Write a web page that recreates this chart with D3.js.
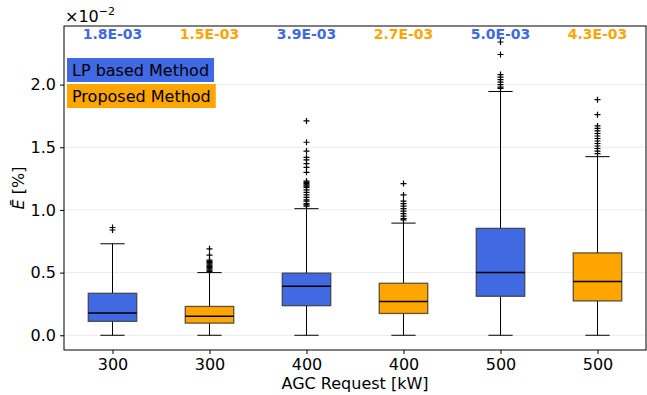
<!DOCTYPE html>
<html>
<head>
<meta charset="utf-8">
<script src="https://cdn.jsdelivr.net/npm/d3@7"></script>
<style>
  body { margin: 0; background: #fff; }
  svg { font-family: "DejaVu Sans", sans-serif; }
</style>
</head>
<body>
<svg id="chart" width="647" height="395"></svg>
<script>
// values are in units of 1e-2 %
const categories = ['300', '300', '400', '400', '500', '500'];
const methods = ['LP', 'Proposed', 'LP', 'Proposed', 'LP', 'Proposed'];
const q1 = [0.111, 0.097, 0.236, 0.174, 0.311, 0.274];
const medians = [0.177, 0.152, 0.392, 0.270, 0.501, 0.430];
const q3 = [0.335, 0.230, 0.496, 0.415, 0.853, 0.657];
const whiskerLow = [0, 0, 0, 0, 0, 0];
const whiskerHigh = [0.73, 0.50, 1.01, 0.895, 1.945, 1.425];
const outliers = [
  [0.84, 0.86],
  [0.51, 0.52, 0.53, 0.54, 0.55, 0.56, 0.57, 0.58, 0.59, 0.60, 0.64, 0.69],
  [1.03, 1.04, 1.05, 1.07, 1.08, 1.10, 1.12, 1.14, 1.16, 1.18, 1.19, 1.20,
   1.21, 1.22, 1.23, 1.30, 1.34, 1.37, 1.40, 1.42, 1.47, 1.54, 1.71],
  [0.92, 0.93, 0.95, 0.97, 0.99, 1.01, 1.03, 1.05, 1.07, 1.12, 1.21],
  [1.97, 1.98, 2.00, 2.02, 2.04, 2.06, 2.08, 2.24, 2.34],
  [1.45, 1.47, 1.49, 1.51, 1.53, 1.55, 1.57, 1.59, 1.61, 1.63, 1.65, 1.67,
   1.76, 1.88]
];
const topLabels = ['1.8E-03', '1.5E-03', '3.9E-03', '2.7E-03', '5.0E-03', '4.3E-03'];
const yTicks = [0, 0.5, 1.0, 1.5, 2.0];
const legendLabels = ['LP based Method', 'Proposed Method'];

const COLORS = { LP: '#4169e1', Proposed: '#ffa500' };

const svg = d3.select('#chart');
const margin = { left: 64, right: 1, top: 26, bottom: 45 };
const width = 647 - margin.left - margin.right;
const height = 395 - margin.top - margin.bottom;

const g = svg.append('g').attr('transform', `translate(${margin.left},${margin.top})`);

const x = d3.scaleLinear().domain([0.5, 6.5]).range([0, width]);
const y = d3.scaleLinear().domain([-0.1175, 2.4675]).range([height, 0]);

// grid
g.append('g')
  .selectAll('line')
  .data(yTicks)
  .join('line')
  .attr('x1', 0)
  .attr('x2', width)
  .attr('y1', (d) => y(d))
  .attr('y2', (d) => y(d))
  .attr('stroke', '#ebebeb')
  .attr('stroke-width', 1);

const boxW = x(1.25) - x(1);
const capW = x(1.125) - x(1);

const boxes = g.append('g')
  .selectAll('g')
  .data(categories.map((c, i) => i))
  .join('g')
  .attr('transform', (i) => `translate(${x(i + 1)},0)`);

// whiskers
boxes.append('line')
  .attr('y1', (i) => y(whiskerLow[i]))
  .attr('y2', (i) => y(q1[i]))
  .attr('stroke', '#000');
boxes.append('line')
  .attr('y1', (i) => y(q3[i]))
  .attr('y2', (i) => y(whiskerHigh[i]))
  .attr('stroke', '#000');
boxes.append('line')
  .attr('x1', -capW).attr('x2', capW)
  .attr('y1', (i) => y(whiskerLow[i]))
  .attr('y2', (i) => y(whiskerLow[i]))
  .attr('stroke', '#000');
boxes.append('line')
  .attr('x1', -capW).attr('x2', capW)
  .attr('y1', (i) => y(whiskerHigh[i]))
  .attr('y2', (i) => y(whiskerHigh[i]))
  .attr('stroke', '#000');

// boxes
boxes.append('rect')
  .attr('x', -boxW)
  .attr('width', 2 * boxW)
  .attr('y', (i) => y(q3[i]))
  .attr('height', (i) => y(q1[i]) - y(q3[i]))
  .attr('fill', (i) => COLORS[methods[i]])
  .attr('stroke', '#333')
  .attr('stroke-opacity', 0.8)
  .attr('stroke-width', 1.3);

// medians
boxes.append('line')
  .attr('x1', -boxW).attr('x2', boxW)
  .attr('y1', (i) => y(medians[i]))
  .attr('y2', (i) => y(medians[i]))
  .attr('stroke', '#000')
  .attr('stroke-width', 1.5);

// fliers
boxes.each(function (i) {
  d3.select(this)
    .selectAll('path.flier')
    .data(outliers[i])
    .join('path')
    .attr('class', 'flier')
    .attr('d', (v) => `M-3,${y(v)}H3M0,${y(v) - 3}V${y(v) + 3}`)
    .attr('stroke', '#000')
    .attr('stroke-width', 1.2);
});

// top labels
g.append('g')
  .selectAll('text')
  .data(topLabels)
  .join('text')
  .attr('x', (d, i) => x(i + 1))
  .attr('y', 13)
  .attr('text-anchor', 'middle')
  .attr('font-size', 14)
  .attr('font-weight', 'bold')
  .attr('fill', (d, i) => COLORS[methods[i]])
  .text((d) => d);

// legend
const legend = g.append('g');
legendLabels.forEach((label, i) => {
  const item = legend.append('g').attr('transform', `translate(3,${32 + i * 26})`);
  const txt = item.append('text')
    .attr('x', 5)
    .attr('y', 18)
    .attr('font-size', 16)
    .attr('fill', '#000')
    .text(label);
  const bb = txt.node().getBBox();
  item.insert('rect', 'text')
    .attr('x', 0)
    .attr('y', 0)
    .attr('width', bb.width + 10)
    .attr('height', 24)
    .attr('fill', i === 0 ? COLORS.LP : COLORS.Proposed);
});

// axes
const yAxis = g.append('g')
  .call(d3.axisLeft(y).tickValues(yTicks).tickFormat(d3.format('.1f')).tickSize(4).tickPadding(4));
const xAxis = g.append('g')
  .attr('transform', `translate(0,${height})`)
  .call(d3.axisBottom(x).tickValues(d3.range(1, 7)).tickFormat((d) => categories[d - 1]).tickSize(4).tickPadding(5));
[yAxis, xAxis].forEach((a) => {
  a.select('.domain').remove();
  a.selectAll('text').attr('font-size', 16).attr('fill', '#000').attr('font-family', '"DejaVu Sans", sans-serif');
  a.selectAll('line').attr('stroke', '#000');
});

g.append('rect')
  .attr('width', width)
  .attr('height', height)
  .attr('fill', 'none')
  .attr('stroke', '#000')
  .attr('stroke-width', 1);

// axis labels
svg.append('text')
  .attr('x', margin.left + width / 2)
  .attr('y', 389)
  .attr('text-anchor', 'middle')
  .attr('font-size', 16)
  .text('AGC Request [kW]');

// y label centred on the plot area
const yl = svg.append('text')
  .attr('transform', `translate(24,${margin.top + height / 2}) rotate(-90)`)
  .attr('text-anchor', 'middle')
  .attr('font-size', 16);
yl.append('tspan').attr('font-style', 'italic').text('\u0112');
yl.append('tspan').text(' [%]');

// offset label
const off = svg.append('text')
  .attr('x', 65)
  .attr('y', 22)
  .attr('font-size', 16);
off.append('tspan').text('\u00d710');
off.append('tspan').attr('dy', -7).attr('font-size', 11).text('\u22122');
</script>
</body>
</html>
